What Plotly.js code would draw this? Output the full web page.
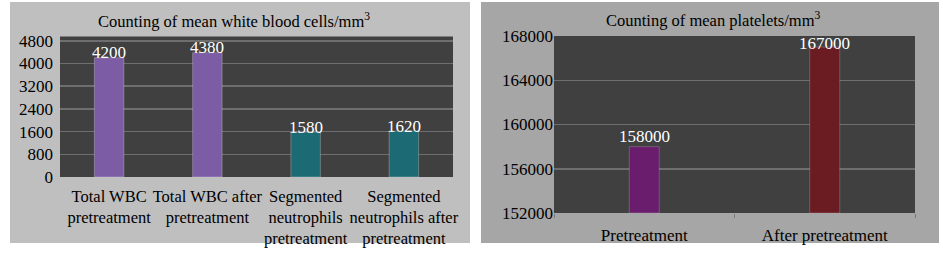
<!DOCTYPE html>
<html><head><meta charset="utf-8">
<script src="https://cdn.plot.ly/plotly-3.0.1.min.js"></script>
<style>html,body{margin:0;padding:0;background:#fff;}#chart{width:943px;height:254px;}</style>
</head><body><div id="chart"></div>
<script>
const wbcCategories = ["Total WBC<br>pretreatment", "Total WBC after<br>pretreatment", "Segmented<br>neutrophils<br>pretreatment", "Segmented<br>neutrophils after<br>pretreatment"];
const wbcValues = [4200, 4380, 1580, 1620];
const wbcColors = ["#7d5ca6", "#7d5ca6", "#1c6b74", "#1c6b74"];
const wbcTicks = [0, 800, 1600, 2400, 3200, 4000, 4800];

const pltCategories = ["Pretreatment", "After pretreatment"];
const pltValues = [158000, 167000];
const pltColors = ["#6a1d6c", "#6b1c23"];
const pltTicks = [152000, 156000, 160000, 164000, 168000];

const W = 943, H = 254;
const px = v => v / W, py = v => 1 - v / H;
const serif = "Liberation Serif, Times New Roman, serif";
const pltBase = pltTicks[0];

const traces = [
  {type: "bar", x: wbcCategories, y: wbcValues, xaxis: "x", yaxis: "y", width: 0.3,
   marker: {color: wbcColors, line: {color: "rgba(255,255,255,0.25)", width: 1}}, hoverinfo: "skip"},
  {type: "bar", x: pltCategories, y: pltValues.map(v => v - pltBase), base: pltBase, xaxis: "x2", yaxis: "y2", width: 0.166,
   marker: {color: pltColors, line: {color: "rgba(255,255,255,0.2)", width: 1}}, hoverinfo: "skip"}
];

const annotations = [];
wbcCategories.forEach((c, i) => annotations.push({x: c, y: wbcValues[i], xref: "x", yref: "y", text: String(wbcValues[i]),
  showarrow: false, yanchor: "middle", yshift: 5, font: {family: serif, size: 17, color: "#ffffff"}}));
const pltShift = [10, 4];
pltCategories.forEach((c, i) => annotations.push({x: c, y: pltValues[i], xref: "x2", yref: "y2", text: String(pltValues[i]),
  showarrow: false, yanchor: "middle", yshift: pltShift[i], font: {family: serif, size: 17, color: "#ffffff"}}));
annotations.push({xref: "paper", yref: "paper", x: px(234), y: py(21), text: "Counting of mean white blood cells/mm<sup>3</sup>",
  showarrow: false, xanchor: "center", yanchor: "middle", font: {family: serif, size: 16.5, color: "#000"}});
annotations.push({xref: "paper", yref: "paper", x: px(713), y: py(20), text: "Counting of mean platelets/mm<sup>3</sup>",
  showarrow: false, xanchor: "center", yanchor: "middle", font: {family: serif, size: 16.5, color: "#000"}});

const darkRect = (xr, yr) => ({type: "rect", xref: xr + " domain", yref: yr + " domain", x0: 0, x1: 1, y0: 0, y1: 1,
  fillcolor: "#404040", line: {width: 0}, layer: "below"});

const layout = {
  width: W, height: H, margin: {l: 0, r: 0, t: 0, b: 0},
  paper_bgcolor: "#ffffff", plot_bgcolor: "#404040", showlegend: false, bargap: 0,
  font: {family: serif, size: 17, color: "#000"},
  shapes: [
    {type: "rect", xref: "paper", yref: "paper", x0: px(10), x1: px(470), y0: py(243), y1: py(2), fillcolor: "#bfbfbf", line: {width: 0}, layer: "below"},
    {type: "rect", xref: "paper", yref: "paper", x0: px(481), x1: px(939), y0: py(243), y1: py(2), fillcolor: "#a6a6a6", line: {width: 0}, layer: "below"},
    darkRect("x", "y"), darkRect("x2", "y2")
  ],
  xaxis: {domain: [px(60), px(453)], anchor: "y", showgrid: false, showline: false, zeroline: false, ticks: "",
    tickangle: 0, automargin: false, ticklabelstandoff: 7,
    tickfont: {family: serif, size: 16.5}, fixedrange: true, range: [-0.5, 3.5]},
  yaxis: {domain: [py(177), py(36.5)], anchor: "x", range: [0, 4950], tickvals: wbcTicks, ticktext: wbcTicks.map(String),
    showgrid: true, gridcolor: "#6e6e6e", gridwidth: 1.5, zeroline: false, showline: false, ticks: "", automargin: false,
    ticklabelstandoff: 6, tickfont: {family: serif, size: 17}, fixedrange: true},
  xaxis2: {domain: [px(554), px(915)], anchor: "y2", showgrid: false, showline: false, zeroline: false,
    ticks: "outside", tickson: "boundaries", ticklen: 4, tickcolor: "#7a7a7a", tickangle: 0, automargin: false, ticklabelstandoff: 10,
    tickfont: {family: serif, size: 17}, fixedrange: true, range: [-0.5, 1.5]},
  yaxis2: {domain: [py(213), py(36)], anchor: "x2", range: [152000, 168000], tickvals: pltTicks, ticktext: pltTicks.map(String),
    showgrid: true, gridcolor: "#6e6e6e", gridwidth: 1.5, zeroline: false, showline: false, ticks: "", automargin: false,
    tickfont: {family: serif, size: 17}, fixedrange: true},
  annotations: annotations
};
Plotly.newPlot("chart", traces, layout, {displayModeBar: false, staticPlot: true});
</script></body></html>
